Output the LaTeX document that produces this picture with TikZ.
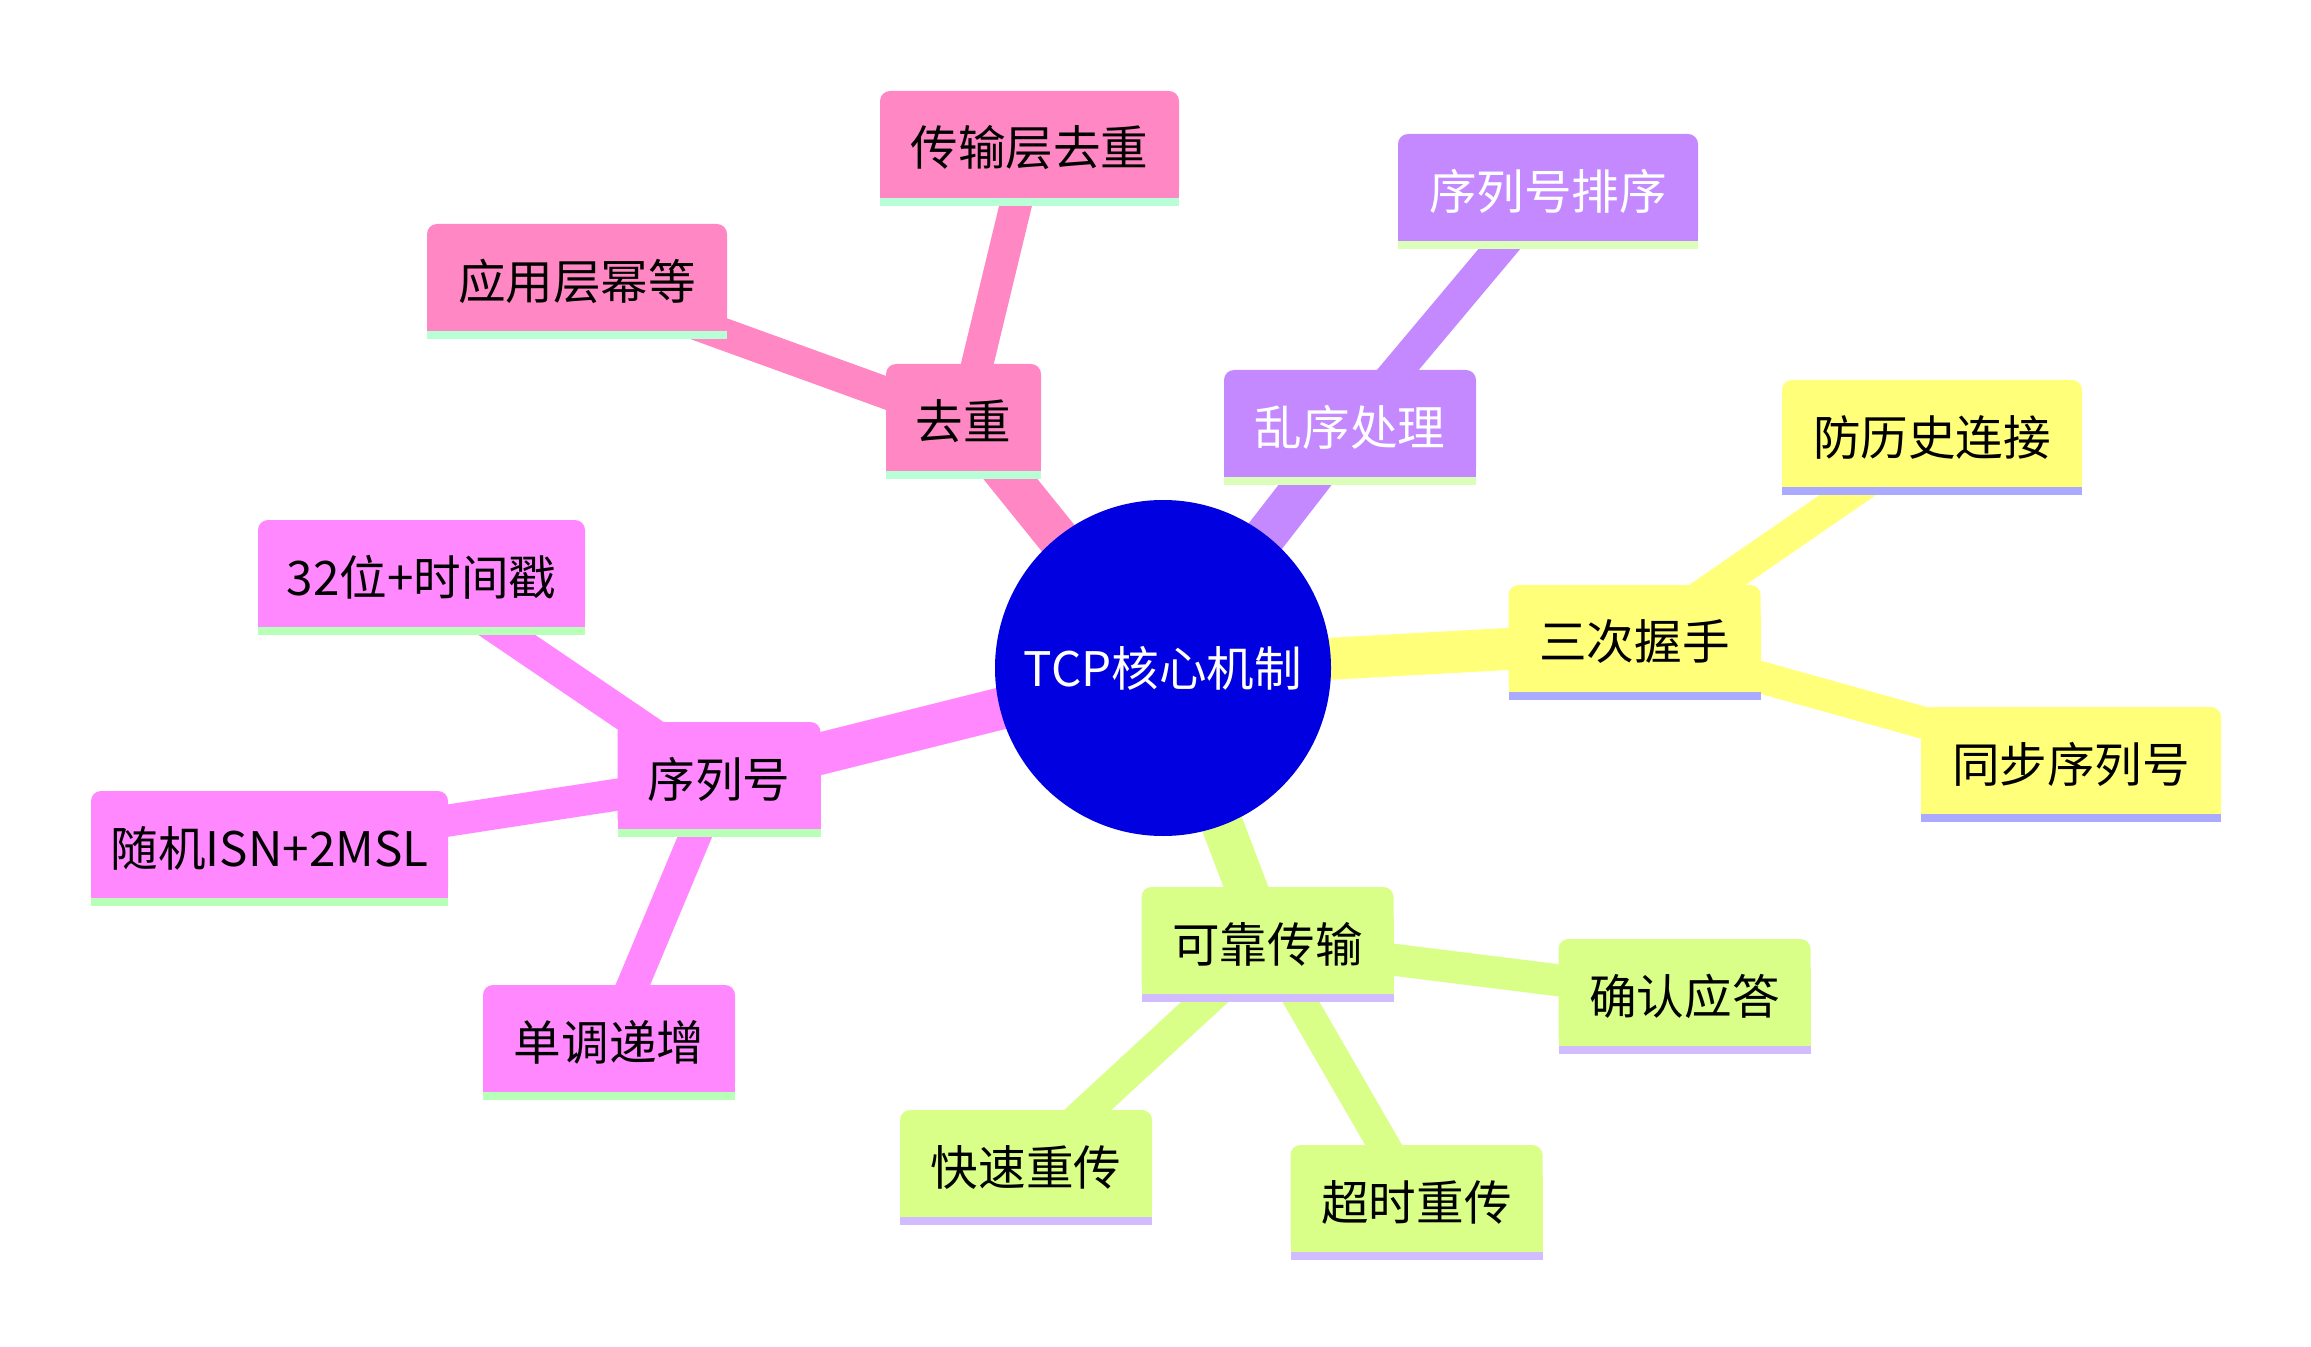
\documentclass[tikz,border=0pt]{standalone}
\usepackage{fontspec}
\newfontfamily\cjk{Noto Sans CJK SC}
\pgfdeclarelayer{paper}
\pgfdeclarelayer{edges}
\pgfsetlayers{paper,edges,main}
\definecolor{cpink}{HTML}{FF88C4}
\definecolor{bpink}{HTML}{B8FFD8}
\definecolor{cpurp}{HTML}{C488FF}
\definecolor{bpurp}{HTML}{DBFFB8}
\definecolor{cyell}{HTML}{FFFF7A}
\definecolor{byell}{HTML}{AAAAFF}
\definecolor{cmag}{HTML}{FF88FF}
\definecolor{bmag}{HTML}{B8FFB8}
\definecolor{clime}{HTML}{D9FF88}
\definecolor{blime}{HTML}{D0BCFF}
\definecolor{croot}{HTML}{0000E0}
\newcommand\mmbox[8]{%
  \fill[#5, rounded corners=5pt] ({#2-#4/2},#3) rectangle ({#2+#4/2},{#3+107});
  \fill[#5] ({#2-#4/2},{#3+30}) rectangle ({#2+#4/2},{#3+107});
  \fill[#6] ({#2-#4/2},{#3+107}) rectangle ({#2+#4/2},{#3+115});
  \node[lbl, text=#7, minimum width={#4*0.5pt}] (#1) at (#2,{#3+57}) {#8};
}
\begin{document}
\begin{tikzpicture}[x=0.5pt,y=-0.5pt,
  lbl/.style={inner sep=0pt, minimum height=53.5pt, font=\cjk\fontsize{23.8}{28}\selectfont},
  rootedge/.style={line width=21pt},
  leafedge/.style={line width=16pt}]
\begin{pgfonlayer}{paper}
\fill[white] (0,0) rectangle (2311,1347);
\end{pgfonlayer}
\useasboundingbox (0,0) rectangle (2311,1347);
\node[circle, fill=croot, minimum size=168pt, inner sep=0pt, text=white,
  font=\cjk\fontsize{23.8}{28}\selectfont] (root) at (1163,668) {TCP核心机制};
\mmbox{qc}{963.5}{364}{155}{cpink}{bpink}{black}{去重}
\mmbox{csc}{1029.5}{91}{299}{cpink}{bpink}{black}{传输层去重}
\mmbox{yyc}{577}{224}{300}{cpink}{bpink}{black}{应用层幂等}
\mmbox{lx}{1350}{370}{252}{cpurp}{bpurp}{white}{乱序处理}
\mmbox{xlpx}{1548}{134}{300}{cpurp}{bpurp}{white}{序列号排序}
\mmbox{scws}{1634.5}{585}{252}{cyell}{byell}{black}{三次握手}
\mmbox{flsl}{1932}{380}{300}{cyell}{byell}{black}{防历史连接}
\mmbox{tbxl}{2071}{707}{300}{cyell}{byell}{black}{同步序列号}
\mmbox{xlh}{719}{722}{203}{cmag}{bmag}{black}{序列号}
\mmbox{swsj}{421.5}{520}{327}{cmag}{bmag}{black}{32位+时间戳}
\mmbox{sjisn}{269.5}{791}{357}{cmag}{bmag}{black}{随机ISN+2MSL}
\mmbox{ddzz}{609}{985}{252}{cmag}{bmag}{black}{单调递增}
\mmbox{kk}{1267.5}{887}{252}{clime}{blime}{black}{可靠传输}
\mmbox{qr}{1684.5}{939}{252}{clime}{blime}{black}{确认应答}
\mmbox{ks}{1026}{1110}{252}{clime}{blime}{black}{快速重传}
\mmbox{cs}{1416.5}{1145}{252}{clime}{blime}{black}{超时重传}
\begin{pgfonlayer}{edges}
\draw[rootedge, cpink] (root.center) -- (qc.center);
\draw[rootedge, cpurp] (root.center) -- (lx.center);
\draw[rootedge, cyell] (root.center) -- (scws.center);
\draw[rootedge, cmag] (root.center) -- (xlh.center);
\draw[rootedge, clime] (root.center) -- (kk.center);
\draw[leafedge, cpink] (qc.center) -- (csc.center);
\draw[leafedge, cpink] (qc.center) -- (yyc.center);
\draw[leafedge, cpurp] (lx.center) -- (xlpx.center);
\draw[leafedge, cyell] (scws.center) -- (flsl.center);
\draw[leafedge, cyell] (scws.center) -- (tbxl.center);
\draw[leafedge, cmag] (xlh.center) -- (swsj.center);
\draw[leafedge, cmag] (xlh.center) -- (sjisn.center);
\draw[leafedge, cmag] (xlh.center) -- (ddzz.center);
\draw[leafedge, clime] (kk.center) -- (qr.center);
\draw[leafedge, clime] (kk.center) -- (ks.center);
\draw[leafedge, clime] (kk.center) -- (cs.center);
\end{pgfonlayer}
\end{tikzpicture}
\end{document}
